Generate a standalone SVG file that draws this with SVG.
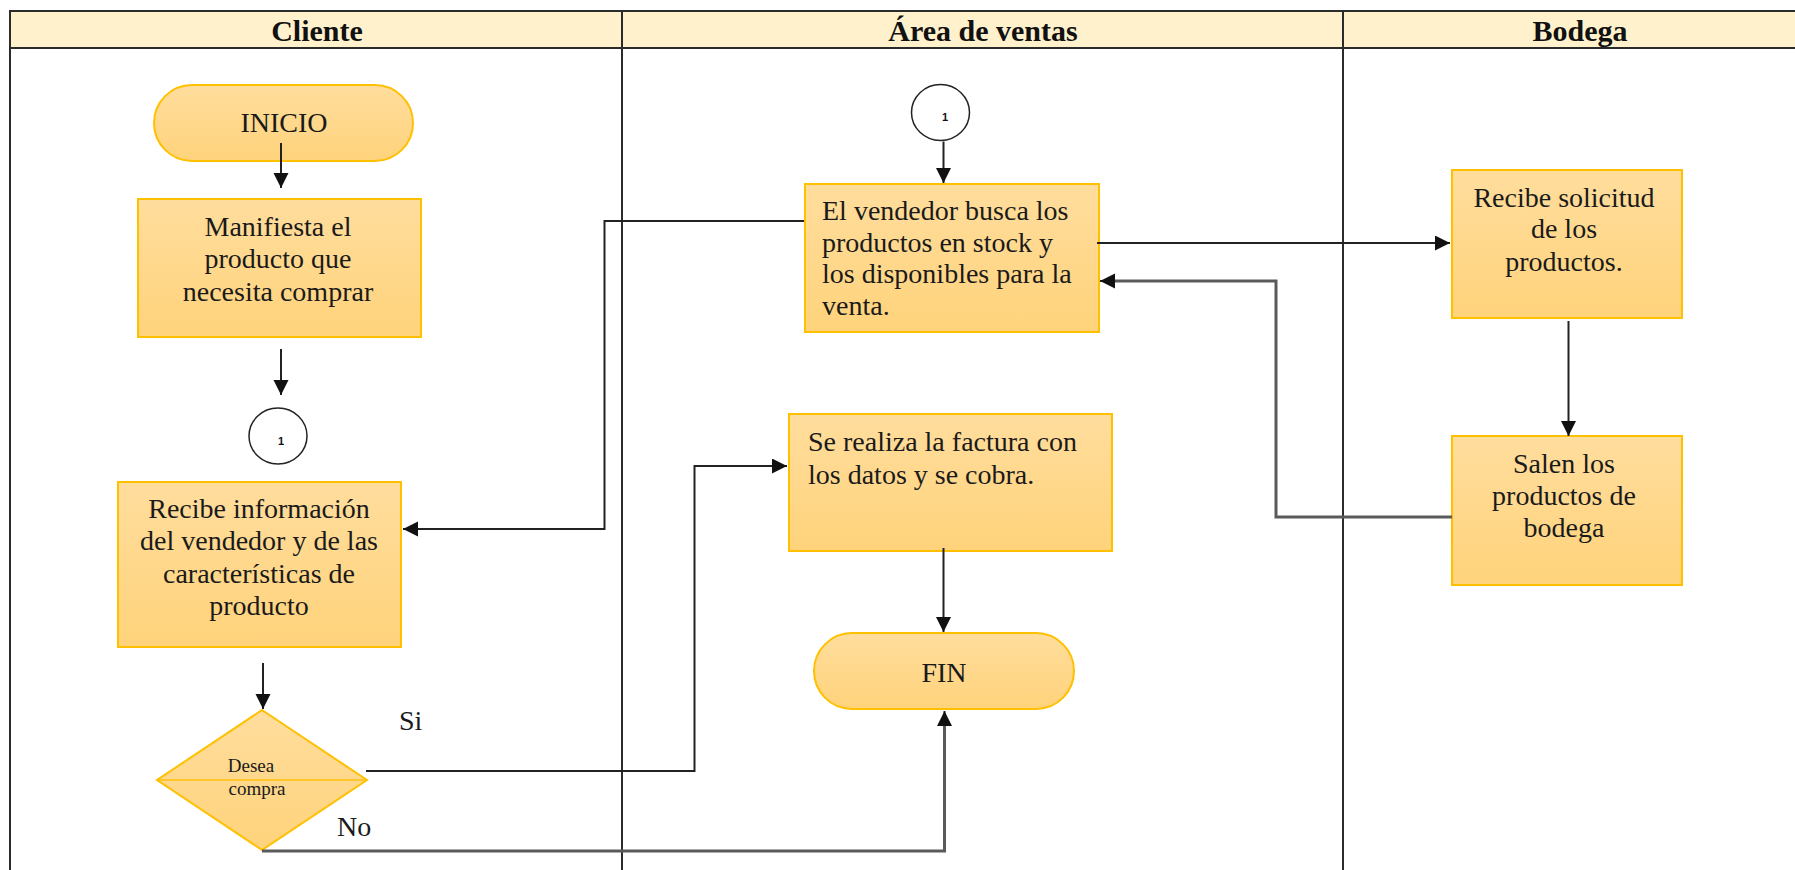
<svg xmlns="http://www.w3.org/2000/svg" width="1795" height="870" viewBox="0 0 1795 870">
<style>
.lane{stroke:#2b2b2b;stroke-width:2;fill:none}
.hdr{fill:#FFF1CC;stroke:#2b2b2b;stroke-width:2}
.htxt{font-family:"Liberation Serif",serif;font-weight:bold;font-size:30px;fill:#111;text-anchor:middle}
.box{fill:url(#g);stroke:#FFC000;stroke-width:2}
.t{font-family:"Liberation Serif",serif;font-size:28px;fill:#1a1a1a}
.c{text-anchor:middle}
.small{font-family:"Liberation Serif",serif;font-size:19px;fill:#1a1a1a;text-anchor:middle}
.circ{fill:#fff;stroke:#222;stroke-width:1.5}
.num{font-family:"Liberation Sans",sans-serif;font-weight:bold;font-size:11px;fill:#111;text-anchor:middle}
.ln{fill:none;stroke:#222;stroke-width:2;marker-end:url(#ah)}
.gl{fill:none;stroke:#5a5a5a;stroke-width:3}
</style>
<defs>
<linearGradient id="g" x1="0" y1="0" x2="0" y2="1">
<stop offset="0" stop-color="#FFDD9D"/>
<stop offset="1" stop-color="#FFD37B"/>
</linearGradient>
<marker id="ah" markerUnits="userSpaceOnUse" markerWidth="16" markerHeight="16" refX="15" refY="7.5" orient="auto">
<path d="M0,0 L15,7.5 L0,15 z" fill="#111"/>
</marker>
</defs>
<rect width="1795" height="870" fill="#fff"/>
<g id="lanes">
<rect class="hdr" x="10" y="11" width="1795" height="37"/>
<line class="lane" x1="10" y1="11" x2="10" y2="872"/>
<line class="lane" x1="622" y1="11" x2="622" y2="872"/>
<line class="lane" x1="1343" y1="11" x2="1343" y2="872"/>
<text class="htxt" x="317" y="41">Cliente</text>
<text class="htxt" x="983" y="41">Área de ventas</text>
<text class="htxt" x="1580" y="41">Bodega</text>
</g>
<g id="inicio">
<rect class="box" x="154" y="85" width="259" height="76" rx="38"/>
<text class="t c" x="284" y="132">INICIO</text>
</g>
<g id="manifiesta">
<rect class="box" x="138" y="199" width="283" height="138"/>
<text class="t c" x="278" y="236">Manifiesta el</text>
<text class="t c" x="278" y="268">producto que</text>
<text class="t c" x="278" y="301">necesita comprar</text>
</g>
<g id="conector1a">
<ellipse class="circ" cx="278" cy="436" rx="29" ry="28"/>
<text class="num" x="281" y="445">1</text>
</g>
<g id="recibe-info">
<rect class="box" x="118" y="482" width="283" height="165"/>
<text class="t c" x="259" y="518">Recibe información</text>
<text class="t c" x="259" y="550">del vendedor y de las</text>
<text class="t c" x="259" y="583">características de</text>
<text class="t c" x="259" y="615">producto</text>
</g>
<g id="decision">
<polygon points="262,710 367,780 262,850 157,780" fill="url(#g)" stroke="#FFC000" stroke-width="2"/>
<line x1="158" y1="780" x2="366" y2="780" stroke="#FFC000" stroke-width="2" opacity="0.7"/>
<text class="small" x="251" y="772">Desea</text>
<text class="small" x="257" y="795">compra</text>
</g>
<g id="conector1b">
<ellipse class="circ" cx="940.5" cy="112.5" rx="29" ry="28"/>
<text class="num" x="945" y="121">1</text>
</g>
<g id="vendedor">
<rect class="box" x="805" y="184" width="294" height="148"/>
<text class="t" x="822" y="220">El vendedor busca los</text>
<text class="t" x="822" y="252">productos en stock y</text>
<text class="t" x="822" y="283">los disponibles para la</text>
<text class="t" x="822" y="315">venta.</text>
</g>
<g id="factura">
<rect class="box" x="789" y="414" width="323" height="137"/>
<text class="t" x="808" y="451">Se realiza la factura con</text>
<text class="t" x="808" y="484">los datos y se cobra.</text>
</g>
<g id="fin">
<rect class="box" x="814" y="633" width="260" height="76" rx="38"/>
<text class="t c" x="944" y="682">FIN</text>
</g>
<g id="recibe-solicitud">
<rect class="box" x="1452" y="170" width="230" height="148"/>
<text class="t c" x="1564" y="207">Recibe solicitud</text>
<text class="t c" x="1564" y="238">de los</text>
<text class="t c" x="1564" y="271">productos.</text>
</g>
<g id="salen">
<rect class="box" x="1452" y="436" width="230" height="149"/>
<text class="t c" x="1564" y="473">Salen los</text>
<text class="t c" x="1564" y="505">productos de</text>
<text class="t c" x="1564" y="537">bodega</text>
</g>
<g id="connectors">
<path class="ln" d="M281,143 L281,188"/>
<path class="ln" d="M281,349 L281,395"/>
<path class="ln" d="M263,663 L263,709"/>
<path class="ln" d="M943.5,141.5 L943.5,183"/>
<path class="ln" d="M804,221 L604.5,221 L604.5,529 L403,529"/>
<path class="ln" d="M1097,243 L1450,243"/>
<path class="ln" d="M1568.5,321 L1568.5,436"/>
<path class="gl" d="M1452,517 L1276,517 L1276,281 L1112,281"/>
<path class="ln" d="M1114,281 L1100,281"/>
<path class="ln" d="M366,771 L694.5,771 L694.5,466 L787,466"/>
<path class="gl" d="M262,851 L944.5,851 L944.5,722"/>
<path class="ln" d="M944.5,726 L944.5,711"/>
<path class="ln" d="M943.5,548 L943.5,632"/>
<text class="t" x="399" y="730">Si</text>
<text class="t" x="337" y="836">No</text>
</g>
</svg>
